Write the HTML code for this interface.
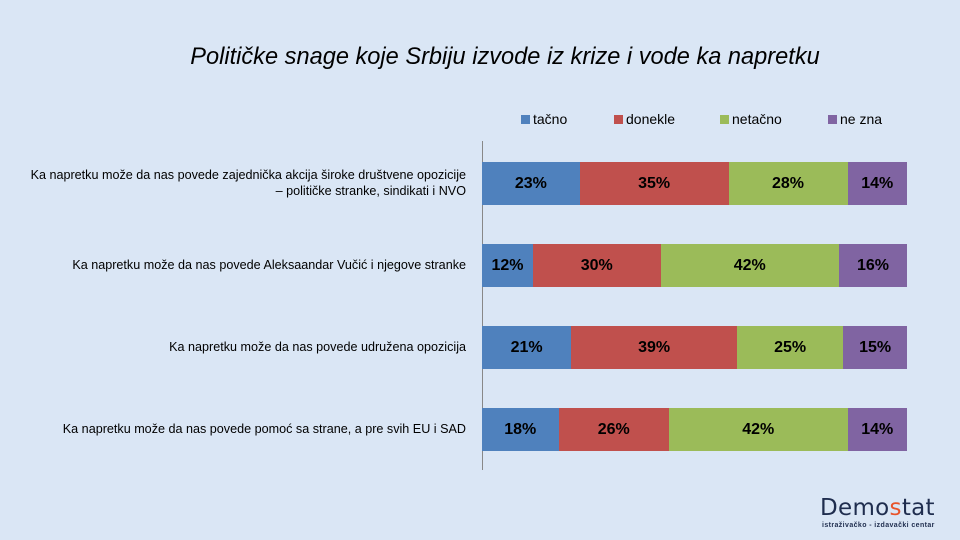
<!DOCTYPE html>
<html><head><meta charset="utf-8"><style>
body{margin:0;width:960px;height:540px;background:#dae6f5;font-family:"Liberation Sans","DejaVu Sans",sans-serif;position:relative;overflow:hidden}
.t{position:absolute;left:0;width:1010px;text-align:center;top:44px;font-size:23.6px;font-style:italic;color:#000}
.lg{position:absolute;top:111px;font-size:14px;color:#000}
.lg i{display:inline-block;width:9px;height:9px;margin-right:3px;vertical-align:0px}
.ax{position:absolute;left:482px;top:141px;width:1px;height:329px;background:#888}
.row{position:absolute;left:482px;height:43px;display:flex}
.row div{height:100%;display:flex;align-items:center;justify-content:center;font-weight:bold;font-size:16px;color:#000}
.lb{position:absolute;right:494px;text-align:right;font-size:12.6px;line-height:16px;color:#000;white-space:nowrap}
.b{background:#4f81bd}.r{background:#c0504d}.g{background:#9bbb59}.p{background:#8064a2}
</style></head><body>
<div class="t">Političke snage koje Srbiju izvode iz krize i vode ka napretku</div>
<div class="lg" style="left:521px"><i class="b"></i>tačno</div>
<div class="lg" style="left:614px"><i class="r"></i>donekle</div>
<div class="lg" style="left:720px"><i class="g"></i>netačno</div>
<div class="lg" style="left:828px"><i class="p"></i>ne zna</div>
<div class="ax"></div>
<div class="lb" style="top:167px">Ka napretku može da nas povede zajednička akcija široke društvene opozicije<br>– političke stranke, sindikati i NVO</div>
<div class="lb" style="top:257px">Ka napretku može da nas povede Aleksaandar Vučić i njegove stranke</div>
<div class="lb" style="top:339px">Ka napretku može da nas povede udružena opozicija</div>
<div class="lb" style="top:421px">Ka napretku može da nas povede pomoć sa strane, a pre svih EU i SAD</div>
<div class="row" style="top:162px"><div class="b" style="width:97.75px">23%</div><div class="r" style="width:148.75px">35%</div><div class="g" style="width:119px">28%</div><div class="p" style="width:59.5px">14%</div></div>
<div class="row" style="top:244px"><div class="b" style="width:51px">12%</div><div class="r" style="width:127.5px">30%</div><div class="g" style="width:178.5px">42%</div><div class="p" style="width:68px">16%</div></div>
<div class="row" style="top:326px"><div class="b" style="width:89.25px">21%</div><div class="r" style="width:165.75px">39%</div><div class="g" style="width:106.25px">25%</div><div class="p" style="width:63.75px">15%</div></div>
<div class="row" style="top:408px"><div class="b" style="width:76.5px">18%</div><div class="r" style="width:110.5px">26%</div><div class="g" style="width:178.5px">42%</div><div class="p" style="width:59.5px">14%</div></div>
<div style="position:absolute;left:820px;top:495px;font-size:23px;color:#1f2d4e;letter-spacing:0.3px;font-family:'DejaVu Sans',sans-serif">Demo<span style="color:#e8532a">s</span>tat</div>
<div style="position:absolute;left:822px;top:522px;font-size:7px;color:#1f2d4e;font-weight:bold;letter-spacing:0.4px">istraživačko - izdavački centar</div>
</body></html>
